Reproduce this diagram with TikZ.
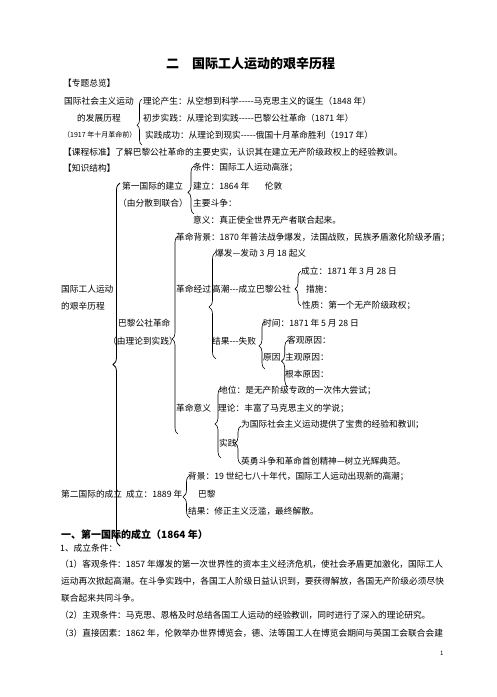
\documentclass[tikz,border=0pt]{standalone}
\usepackage{fontspec}
\setmainfont{Noto Sans CJK SC}
\usetikzlibrary{decorations.pathreplacing}
\newcommand{\dsh}{-\kern0pt}
\begin{document}
\begin{tikzpicture}[x=1pt,y=-1pt,
  txt/.style={anchor=west,inner sep=0pt,font=\fontsize{8.7}{10}\selectfont},
  brc/.style={decorate,line width=0.6pt}]
\useasboundingbox[fill=white](0,0)rectangle(496,697);
\node[txt,font=\fontsize{13}{15}\selectfont\bfseries](biaoti) at(166,64){二　国际工人运动的艰辛历程};
\node[txt](zonglan) at(63,83){【专题总览】};
\node[txt](yundong) at(64,101){国际社会主义运动};
\node[txt](lilun) at(143,101){理论产生：从空想到科学\dsh\dsh\dsh\dsh\dsh 马克思主义的诞生（1848 年）};
\node[txt](licheng) at(77,118){的发展历程};
\node[txt](chubu) at(143,118){初步实践：从理论到实践\dsh\dsh\dsh\dsh\dsh 巴黎公社革命（1871 年）};
\node[txt,font=\fontsize{7}{8}\selectfont](qian) at(63,135){（1917 年十月革命前）};
\node[txt](chenggong) at(145,135){实践成功：从理论到现实\dsh\dsh\dsh\dsh\dsh 俄国十月革命胜利（1917 年）};
\draw[brc,decoration={brace,amplitude=5pt,aspect=0.43}](142,145)--(142,99);
\node[txt](biaozhun) at(63,152){【课程标准】了解巴黎公社革命的主要史实，认识其在建立无产阶级政权上的经验教训。};
\node[txt](jiegou) at(63,168){【知识结构】};
\node[txt](tiaojian) at(193,168){条件：国际工人运动高涨；};
\node[txt](diyi) at(122,186){第一国际的建立};
\node[txt](jianli) at(193,186){建立：1864 年\hspace{1.8em}伦敦};
\node[txt](lianhe) at(118,203){（由分散到联合）};
\node[txt](douzheng) at(193,203){主要斗争：};
\node[txt](yiyi) at(193,220){意义：真正使全世界无产者联合起来。};
\draw[brc,decoration={brace,amplitude=6pt,aspect=0.45}](194,214)--(194,166);
\draw[brc,line width=0.8pt,decoration={brace,amplitude=7pt,aspect=0.5}](120,546)--(120,183);
\node[txt](beijing) at(176,237){革命背景：1870 年普法战争爆发，法国战败，民族矛盾激化阶级矛盾；};
\node[txt](baofa) at(215,253){爆发—发动 3 月 18 起义};
\node[txt](chengli) at(301,271){成立：1871 年 3 月 28 日};
\node[txt](gjgr) at(61,289){国际工人运动};
\node[txt](jingguo) at(176,289){革命经过};
\node[txt](gaochao) at(212,289){高潮\dsh\dsh\dsh 成立巴黎公社};
\node[txt](cuoshi) at(306,289){措施：};
\node[txt](jianxin) at(61,306){的艰辛历程};
\node[txt](xingzhi) at(302,306){性质：第一个无产阶级政权；};
\draw[brc,decoration={brace,amplitude=6pt,aspect=0.49}](301,306)--(301,271);
\node[txt](bali) at(118,323){巴黎公社革命};
\node[txt](shijian) at(263,323){时间：1871 年 5 月 28 日};
\node[txt](shijian2) at(108,341){（由理论到实践）};
\node[txt](jieguo) at(212,341){结果\dsh\dsh\dsh 失败};
\node[txt](keguan) at(287,340){客观原因：};
\draw[brc,decoration={brace,amplitude=6pt,aspect=0.48}](265,369)--(265,321);
\node[txt](yuanyin) at(263,357){原因};
\node[txt](zhuguan) at(285,357){主观原因：};
\node[txt](genben) at(285,374){根本原因：};
\draw[brc,decoration={brace,amplitude=6.5pt,aspect=0.55}](288,387)--(288,340);
\draw[brc,decoration={brace,amplitude=7pt,aspect=0.486}](216,359)--(216,252);
\node[txt](diwei) at(219,391){地位：是无产阶级专政的一次伟大尝试；};
\node[txt](yiyi2) at(176,408){革命意义};
\node[txt](lilun2) at(218,408){理论：丰富了马克思主义的学说；};
\node[txt](jingyan) at(241,425){为国际社会主义运动提供了宝贵的经验和教训；};
\node[txt](shijian3) at(219,443){实践};
\node[txt](dianfan) at(241,461){英勇斗争和革命首创精神—树立光辉典范。};
\draw[brc,decoration={brace,amplitude=6pt,aspect=0.55}](241,464)--(241,426);
\draw[brc,decoration={brace,amplitude=6pt,aspect=0.486}](221,458)--(221,388);
\draw[brc,decoration={brace,amplitude=6pt,aspect=0.48}](178,434)--(178,236);
\node[txt](beijing2) at(188,477){背景：19 世纪七八十年代，国际工人运动出现新的高潮；};
\node[txt](dier) at(61,494){第二国际的成立};
\node[txt](chengli2) at(126,494){成立：1889 年};
\node[txt](bali2) at(198,494){巴黎};
\node[txt](jieguo2) at(188,511){结果：修正主义泛滥，最终解散。};
\draw[brc,decoration={brace,amplitude=7pt,aspect=0.49}](190,518)--(190,475);
\node[txt,font=\fontsize{10}{12}\selectfont\bfseries](yi) at(61,535){一、第一国际的成立（1864 年）};
\node[txt](tiaojian2) at(60,548){1、成立条件：};
\node[txt](keguan2) at(60,564){（1）客观条件：1857 年爆发的第一次世界性的资本主义经济危机，使社会矛盾更加激化，国际工人};
\node[txt](hang2) at(61,581){运动再次掀起高潮。在斗争实践中，各国工人阶级日益认识到，要获得解放，各国无产阶级必须尽快};
\node[txt](hang3) at(61,598){联合起来共同斗争。};
\node[txt](zhuguan2) at(60,615){（2）主观条件：马克思、恩格及时总结各国工人运动的经验教训，同时进行了深入的理论研究。};
\node[txt](zhijie) at(60,633){（3）直接因素：1862 年，伦敦举办世界博览会，德、法等国工人在博览会期间与英国工会联合会建};
\node[txt,font=\fontsize{6}{7}\selectfont](ye) at(440,653){1};
\end{tikzpicture}
\end{document}
